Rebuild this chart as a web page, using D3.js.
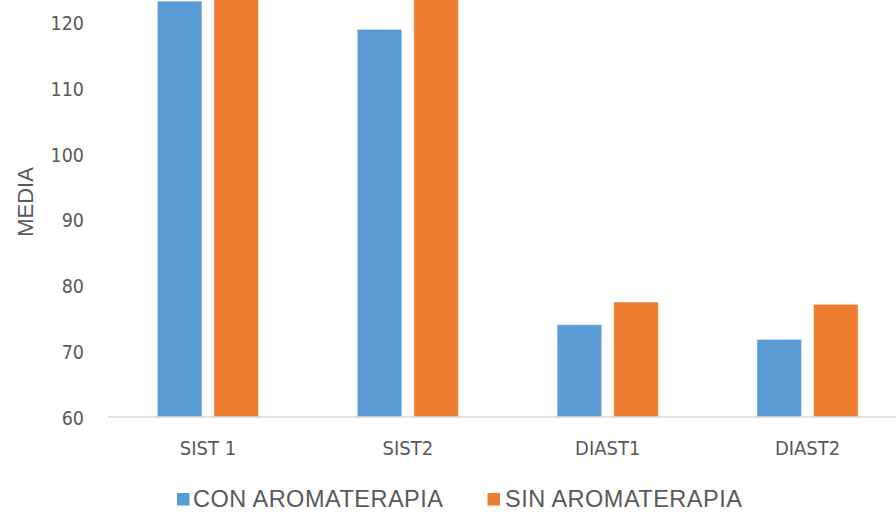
<!DOCTYPE html>
<html>
<head>
<meta charset="utf-8">
<script src="https://cdn.jsdelivr.net/npm/d3@7"></script>
<style>
  html, body { margin: 0; padding: 0; background: #fff; }
  svg { display: block; }
</style>
</head>
<body>
<svg id="chart" width="896" height="512"></svg>
<script>
// Mean blood pressure by measurement, with and without aromatherapy
const categories = ["SIST 1", "SIST2", "DIAST1", "DIAST2"];
const seriesNames = ["CON AROMATERAPIA", "SIN AROMATERAPIA"];
const conAromaterapia = [123.3, 119.0, 74.05, 71.8];
const sinAromaterapia = [127.0, 126.0, 77.5, 77.15];
const yTicks = [60, 70, 80, 90, 100, 110, 120];
const colors = ["#5B9BD5", "#ED7D31"];

const values = [conAromaterapia, sinAromaterapia];

const svg = d3.select("#chart");

const x0 = d3.scaleBand()
  .domain(categories)
  .range([108, 907.5])
  .paddingInner(0.494)
  .paddingOuter(0.247);

const x1 = d3.scaleBand()
  .domain(seriesNames)
  .range([0, x0.bandwidth()])
  .paddingInner(0.2124);

const y = d3.scaleLinear()
  .domain([60, 120])
  .range([417, 22.8]);

const color = d3.scaleOrdinal().domain(seriesNames).range(colors);

// Bars
const groups = svg.append("g")
  .selectAll("g")
  .data(categories)
  .join("g")
  .attr("transform", d => `translate(${x0(d)},0)`);

groups.selectAll("rect")
  .data((d, i) => seriesNames.map((s, j) => ({ s, v: values[j][i] })))
  .join("rect")
  .attr("x", d => x1(d.s))
  .attr("width", x1.bandwidth())
  .attr("y", d => y(d.v))
  .attr("height", d => y(60) - y(d.v))
  .attr("fill", d => color(d.s))
  .attr("stroke", "#ffffff")
  .attr("stroke-opacity", 0.45)
  .attr("stroke-width", 1);

// Category axis
const xAxis = svg.append("g")
  .attr("transform", `translate(0,${y(60)})`)
  .call(d3.axisBottom(x0).tickSize(0).tickPadding(0));
xAxis.select(".domain")
  .attr("d", "M108,0H896")
  .attr("stroke", "#D9D9D9")
  .attr("stroke-width", 1.4);
xAxis.selectAll("text")
  .attr("y", 38)
  .attr("dy", null)
  .attr("fill", "#595959")
  .style("font-family", "'DejaVu Sans Condensed', 'DejaVu Sans', sans-serif")
  .style("font-stretch", "condensed")
  .style("font-size", "20px");

// Value axis
const yAxis = svg.append("g")
  .attr("transform", "translate(84,0)")
  .call(d3.axisLeft(y).tickValues(yTicks).tickSize(0).tickPadding(0));
yAxis.select(".domain").remove();
yAxis.selectAll("text")
  .attr("dy", "0.36em")
  .attr("fill", "#595959")
  .style("font-family", "'DejaVu Sans Condensed', 'DejaVu Sans', sans-serif")
  .style("font-stretch", "condensed")
  .style("font-size", "19.5px");

// Axis title
svg.append("text")
  .attr("transform", "translate(33,202) rotate(-90)")
  .attr("text-anchor", "middle")
  .attr("fill", "#595959")
  .style("font-family", "'Liberation Sans', Arial, sans-serif")
  .style("font-size", "22px")
  .text("MEDIA");

// Legend
const legendItems = [
  { name: seriesNames[0], sx: 177, tx: 193 },
  { name: seriesNames[1], sx: 487.5, tx: 505 }
];
const legend = svg.append("g");
legend.selectAll("rect")
  .data(legendItems)
  .join("rect")
  .attr("x", d => d.sx)
  .attr("y", 493)
  .attr("width", 12.5)
  .attr("height", 12.5)
  .attr("fill", d => color(d.name));
legend.selectAll("text")
  .data(legendItems)
  .join("text")
  .attr("x", d => d.tx)
  .attr("y", 507)
  .attr("fill", "#595959")
  .style("font-family", "'Liberation Sans', Arial, sans-serif")
  .style("font-size", "23.5px")
  .style("letter-spacing", "0.5px")
  .text(d => d.name);
</script>
</body>
</html>
